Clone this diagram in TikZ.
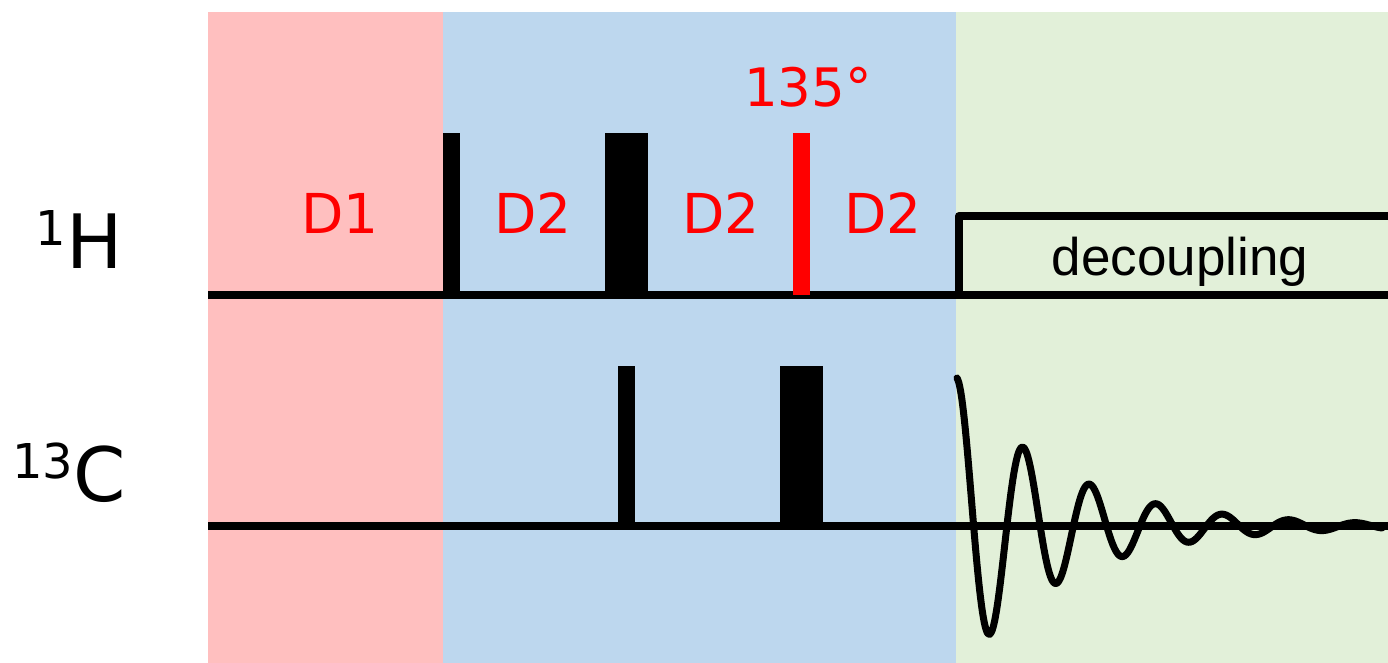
\documentclass[tikz,border=0pt]{standalone}
\usepackage{fontspec}
\setmainfont{DejaVu Sans}
\newfontfamily\arialf{Liberation Sans}
\definecolor{pinkbg}{HTML}{FFBFBF}
\definecolor{bluebg}{HTML}{BDD7EE}
\definecolor{greenbg}{HTML}{E2F0D9}
\definecolor{pulsered}{HTML}{FF0000}
\tikzset{
  axisline/.style={line width=8pt, black, line join=round},
  pulse/.style={fill=black, draw=none},
  redpulse/.style={fill=pulsered, draw=none},
  delaylabel/.style={anchor=base, inner sep=0pt, text=pulsered, font=\fontsize{55}{60}\selectfont},
  nucleus/.style={anchor=base east, inner sep=0pt, font=\fontsize{75}{80}\selectfont},
  fid/.style={line width=7pt, black, line join=round, line cap=round},
}
\begin{document}
\begin{tikzpicture}[x=1pt, y=-1pt]
\useasboundingbox (0,0) rectangle (1388,663);
\fill[white] (0,0) rectangle (1388,663);
% period backgrounds
\fill[pinkbg] (208,12) rectangle (443,663);
\fill[bluebg] (443,12) rectangle (956,663);
\fill[greenbg] (956,12) rectangle (1388,663);
% channel lines
\coordinate (hstart) at (208,295);
\coordinate (hend) at (1388,295);
\coordinate (decA) at (959,295);
\coordinate (decB) at (959,216);
\coordinate (decC) at (1388,216);
\coordinate (cstart) at (208,526);
\coordinate (cend) at (1388,526);
\draw[axisline] (hstart) -- (hend);
\draw[axisline] (decA) -- (decB) -- (decC);
\draw[axisline] (cstart) -- (cend);
% 1H pulses
\fill[pulse] (443,133) rectangle (460,295);
\fill[pulse] (605,133) rectangle (648,295);
\fill[redpulse] (793,133) rectangle (810,295);
% 13C pulses
\fill[pulse] (618,366) rectangle (635,526);
\fill[pulse] (780,366) rectangle (823,526);
% FID
\draw[fid] plot[smooth, samples=260, domain=0:425]
  ({957+\x},{526-148*exp(-0.0095*\x)*cos(5.4135*\x)});
% labels
\node[delaylabel] (d1) at (340,233) {D1};
\node[delaylabel] (d2a) at (533,233) {D2};
\node[delaylabel] (d2b) at (721,233) {D2};
\node[delaylabel] (d2c) at (883,233) {D2};
\node[anchor=base, inner sep=0pt, text=pulsered, font=\fontsize{53}{58}\selectfont] (angle) at (808,107) {135°};
\node[anchor=base, inner sep=0pt, font=\arialf\fontsize{53}{58}\selectfont] (dec) at (1180,275) {decoupling};
\node[nucleus] (hlab) at (123,268) {\raisebox{23pt}{\fontsize{48}{50}\selectfont 1}H};
\node[nucleus] (clab) at (126,501) {\raisebox{23pt}{\fontsize{48}{50}\selectfont 13}C};
\end{tikzpicture}
\end{document}
